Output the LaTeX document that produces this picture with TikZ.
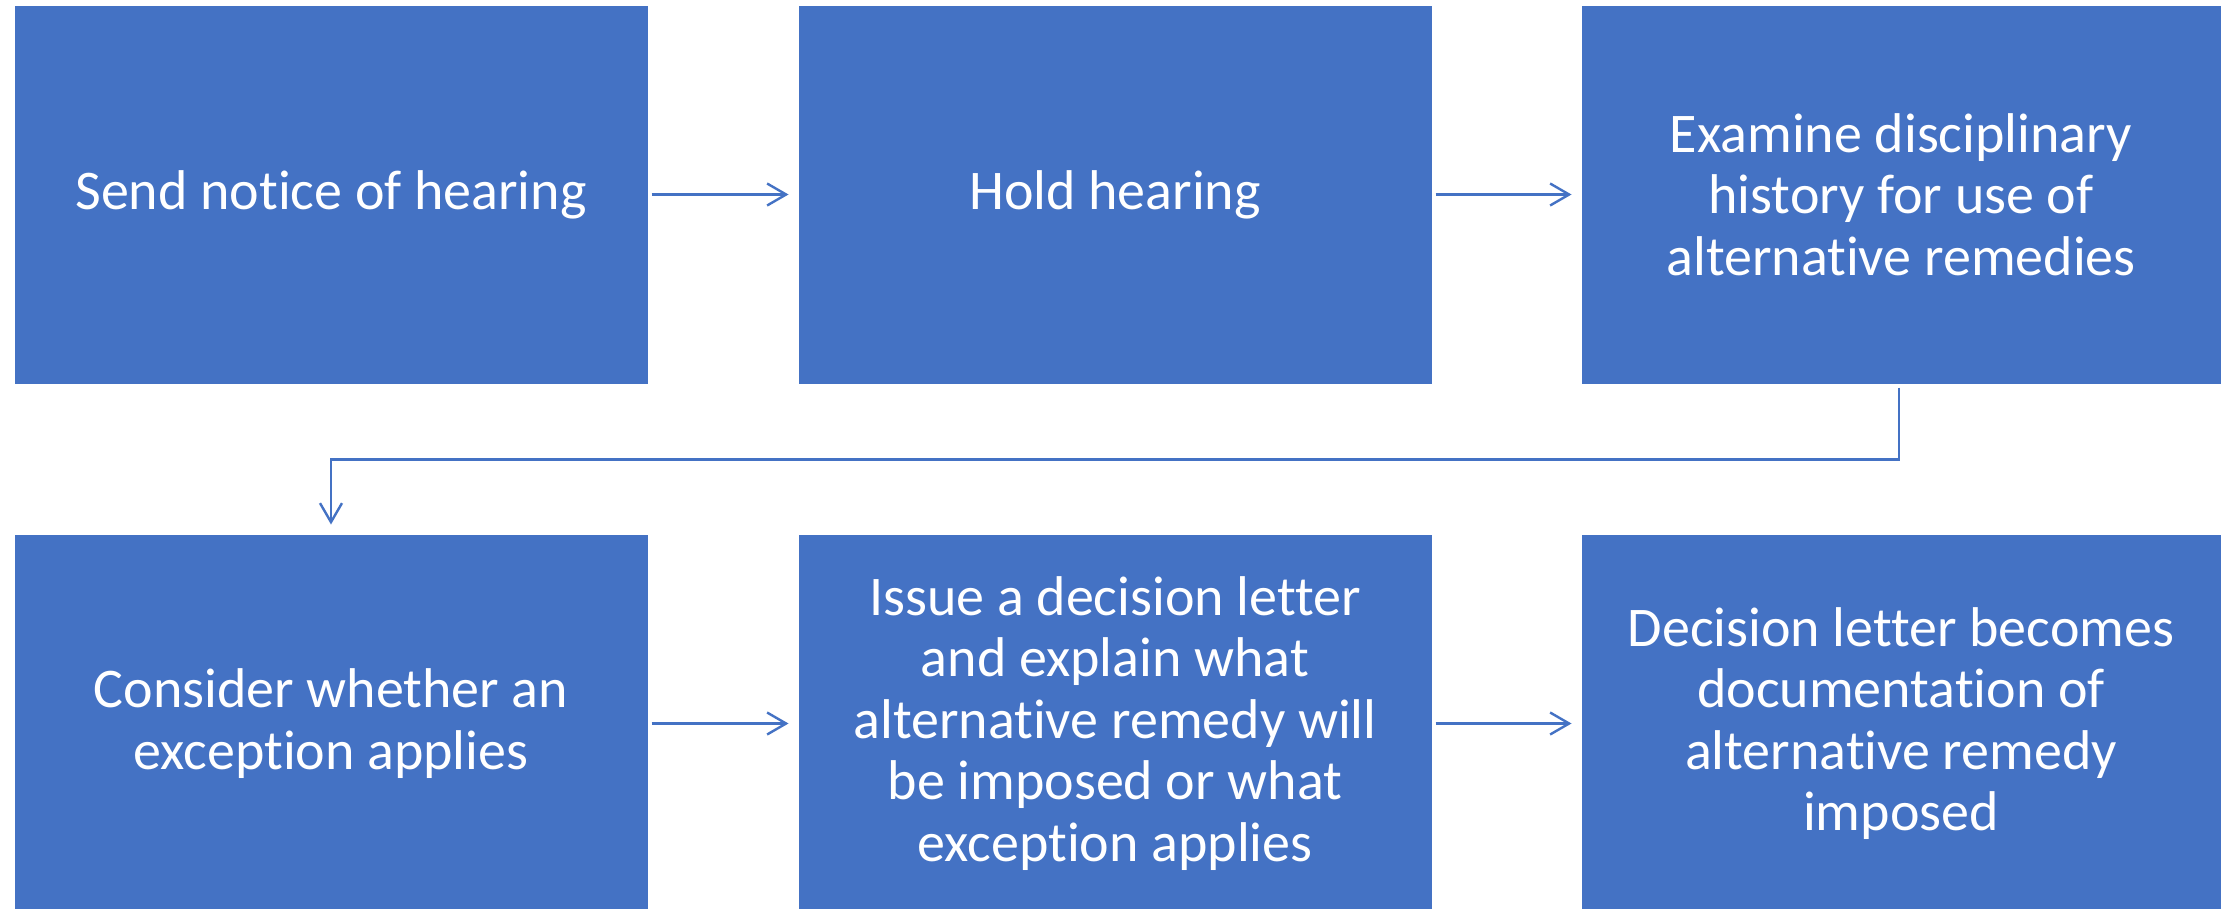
\documentclass[tikz,border=0pt]{standalone}
\usepackage{fontspec}
\setmainfont{Carlito}[Ligatures={NoCommon}]
\usetikzlibrary{arrows.meta}
\definecolor{boxblue}{HTML}{4472C4}
\tikzset{
  stepbox/.style={rectangle, fill=boxblue, draw=white, line width=1pt,
    minimum width=634pt, minimum height=379pt, inner sep=0pt,
    align=center, text=white,
    font=\fontsize{56pt}{61.5pt}\selectfont},
  conn/.style={draw=boxblue, line width=2.4pt,
    -{Straight Barb[length=19pt,width=22pt,line width=2.4pt]},
    shorten <=3pt, shorten >=9pt}
}
\begin{document}
\begin{tikzpicture}[x=1pt,y=-1pt]
\path[use as bounding box] (0,0) rectangle (2221,908);
\clip (0,0) rectangle (2221,908);
\fill[white] (0,0) rectangle (2221,908);
% row 1
\node[stepbox] (b1) at (331,194.5) {Send notice of hearing};
\node[stepbox] (b2) at (1115,194.5) {Hold hearing};
\node[stepbox, minimum width=640pt] (b3) at (1901,194.5) {Examine disciplinary\\history for use of\\alternative remedies};
% row 2
\node[stepbox] (b4) at (331,723.5) {Consider whether an\\exception applies};
\node[stepbox] (b5) at (1115,723.5) {Issue a decision letter\\and explain what\\alternative remedy will\\be imposed or what\\exception applies};
\node[stepbox, minimum width=640pt] (b6) at (1901,723.5) {Decision letter becomes\\documentation of\\alternative remedy\\imposed};
% connectors
\draw[conn] (b1.east) -- (b2.west);
\draw[conn] (b2.east) -- (b3.west);
\draw[conn] (b3.south -| 1899,0) -- ++(0,75) -| (b4.north);
\draw[conn] (b4.east) -- (b5.west);
\draw[conn] (b5.east) -- (b6.west);
\end{tikzpicture}
\end{document}
